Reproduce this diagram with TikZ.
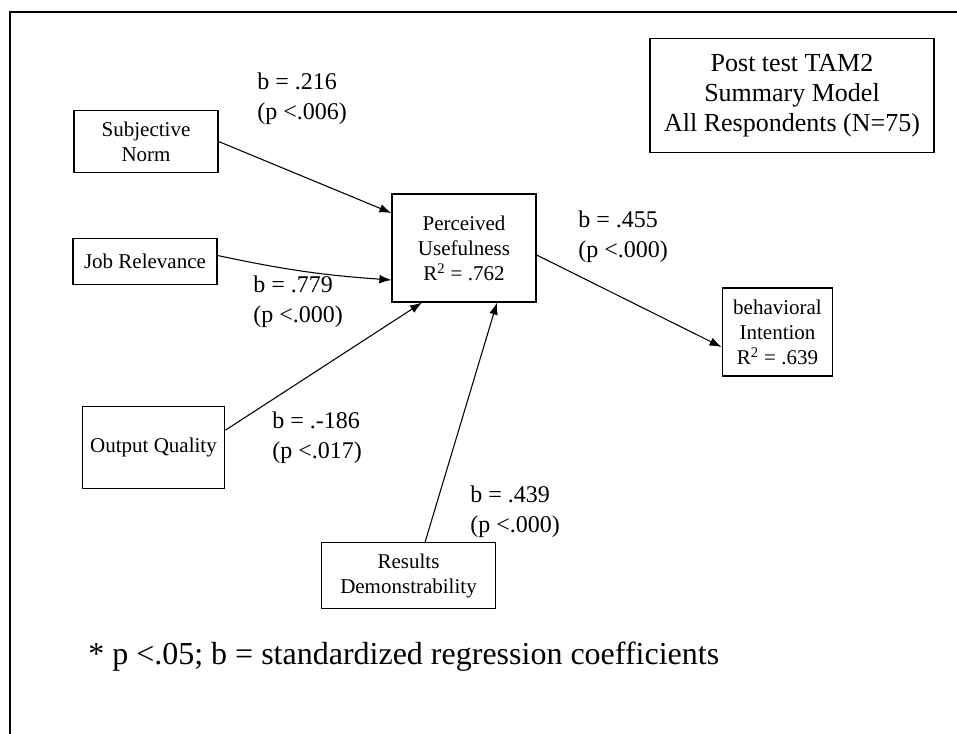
\documentclass[tikz,border=0pt]{standalone}
\usepackage{fontspec}
\setmainfont{Liberation Serif}
\usetikzlibrary{arrows.meta,positioning}

\tikzset{
  box/.style={draw, line width=0.9pt, inner sep=0pt, align=center,
    font=\fontsize{15.75}{18.75}\selectfont},
  coef/.style={anchor=west, inner sep=0pt, align=left,
    font=\fontsize{18}{22.5}\selectfont},
  path/.style={line width=0.8pt, -{Latex[length=9pt,width=6.5pt]}},
}

\begin{document}
\begin{tikzpicture}[x=0.75pt, y=-0.75pt]
  \useasboundingbox (0,0) rectangle (957,734);

  % open frame: top and left edges only
  \draw[line width=1.1pt] (10,734) -- (10,12) -- (957,12);

  % title
  \node[box, minimum width=213pt, minimum height=86pt,
        font=\fontsize{19.5}{22.5}\selectfont] (title) at (792,95.5)
    {Post test TAM2\\Summary Model\\All Respondents (N=75)};

  % constructs
  \node[box, minimum width=108pt, minimum height=47pt] (sn) at (146,141.5)
    {Subjective\\Norm};
  \node[box, minimum width=108pt, minimum height=35pt] (jr) at (145,261.5)
    {Job Relevance};
  \node[box, minimum width=107pt, minimum height=61pt] (oq) at (153.5,447.5)
    {Output Quality};
  \node[box, minimum width=108pt, minimum height=81pt] (pu) at (464,248)
    {Perceived\\Usefulness\\R\textsuperscript{2} = .762};
  \node[box, minimum width=83pt, minimum height=66pt] (bi) at (777.5,332)
    {behavioral\\Intention\\R\textsuperscript{2} = .639};
  \node[box, minimum width=131pt, minimum height=49pt] (rd) at (408.5,575.5)
    {Results\\Demonstrability};

  % paths
  \draw[path] (sn.east) -- ([yshift=26.25pt]pu.west);
  \draw[path] ([yshift=4.5pt]jr.east) to[bend right=4] ([yshift=-24pt]pu.west);
  \draw[path] ([yshift=13pt]oq.east) -- ([xshift=-31.5pt]pu.south);
  \draw[path] ([xshift=12.4pt]rd.north) -- ([xshift=24.75pt]pu.south);
  \draw[path] ([yshift=-5.25pt]pu.east) -- ([yshift=-11.25pt]bi.west);

  % coefficients
  \node[coef] (c1) at (257,99) {b = .216\\(p <.006)};
  \node[coef] (c2) at (578,237) {b = .455\\(p <.000)};
  \node[coef] (c3) at (253,302) {b = .779\\(p <.000)};
  \node[coef] (c4) at (272,438) {b = .-186\\(p <.017)};
  \node[coef] (c5) at (470,512) {b = .439\\(p <.000)};

  % footnote
  \node[anchor=west, inner sep=0pt, font=\fontsize{24}{28}\selectfont] (note)
    at (88,657) {* p <.05; b = standardized regression coefficients};
\end{tikzpicture}
\end{document}
